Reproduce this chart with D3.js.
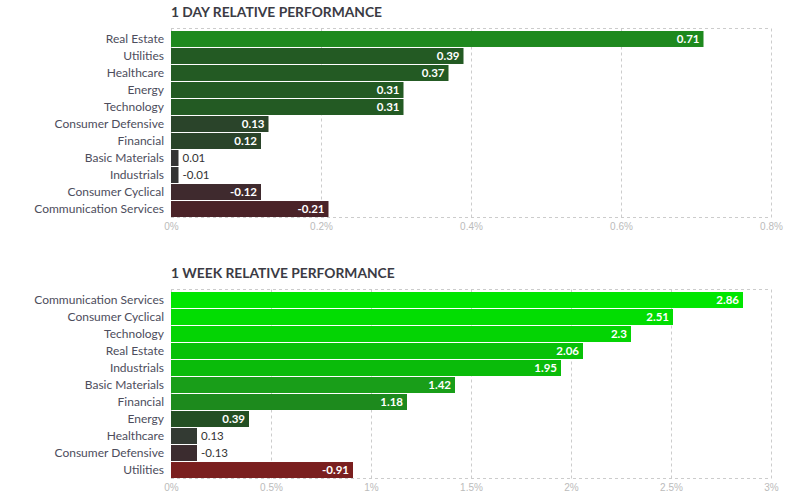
<!DOCTYPE html>
<html>
<head>
<meta charset="utf-8">
<script src="https://cdn.jsdelivr.net/npm/d3@7"></script>
<style>
    body { margin: 0; background: #fff; }
    svg { display: block; font-family: Lato, "Open Sans", sans-serif; }
    .title { font-size: 13.8px; font-weight: bold; fill: #3b3b44; }
    .cat { font-size: 12px; fill: #4d4d5c; }
    .tick text { font-size: 10px; fill: #bbb; }
    .grid line { stroke: #ccc; stroke-dasharray: 3,3; }
    .val { font-size: 11.5px; font-weight: bold; }
</style>
</head>
<body>
<svg width="800" height="502"></svg>
<script>
// 1 day
const dayCategories = ["Real Estate", "Utilities", "Healthcare", "Energy", "Technology",
    "Consumer Defensive", "Financial", "Basic Materials", "Industrials",
    "Consumer Cyclical", "Communication Services"];
const dayValues = [0.71, 0.39, 0.37, 0.31, 0.31, 0.13, 0.12, 0.01, -0.01, -0.12, -0.21];
const dayTicks = [0, 0.2, 0.4, 0.6, 0.8];

// 1 week
const weekCategories = ["Communication Services", "Consumer Cyclical", "Technology", "Real Estate",
    "Industrials", "Basic Materials", "Financial", "Energy", "Healthcare",
    "Consumer Defensive", "Utilities"];
const weekValues = [2.86, 2.51, 2.3, 2.06, 1.95, 1.42, 1.18, 0.39, 0.13, -0.13, -0.91];
const weekTicks = [0, 0.5, 1, 1.5, 2, 2.5, 3];

const LEFT = 171,
    RIGHT = 771,
    LABEL_GAP = 7,
    INSIDE_MIN = 32;

const svg = d3.select("svg");

const dayColor = d3.scaleThreshold()
    .domain([-0.15, -0.05, 0.05, 0.2, 0.5])
    .range(["#4a2328", "#3f2a2e", "#333333", "#2a442a", "#235a23", "#1e891e"]);

const weekColor = d3.scaleThreshold()
    .domain([-0.5, -0.05, 0.25, 1, 1.3, 1.7, 2, 2.2, 2.4, 2.7])
    .range(["#7a1f1f", "#3b2c2f", "#333a33", "#234f23", "#1d8a1d", "#199e19",
        "#0abb0a", "#08c108", "#04d404", "#02dd02", "#00e600"]);

function drawChart(top, title, categories, values, ticks, color) {
    const g = svg.append("g").attr("transform", `translate(0,${top})`);

    const x = d3.scaleLinear()
        .domain([0, ticks[ticks.length - 1]])
        .range([LEFT, RIGHT]);

    const y = d3.scaleBand()
        .domain(categories)
        .range([31, 217])
        .paddingInner(0.06);

    g.append("text")
        .attr("class", "title")
        .attr("x", LEFT)
        .attr("y", 17)
        .text(title);

    // grid + frame
    const grid = g.append("g").attr("class", "grid");
    grid.selectAll(".v")
        .data(ticks)
        .enter()
        .append("line")
        .attr("x1", (d) => x(d) + 0.5)
        .attr("x2", (d) => x(d) + 0.5)
        .attr("y1", 28.5)
        .attr("y2", 217.5);
    grid.selectAll(".h")
        .data([28.5, 217.5])
        .enter()
        .append("line")
        .attr("x1", LEFT)
        .attr("x2", RIGHT)
        .attr("y1", (d) => d)
        .attr("y2", (d) => d);

    const axis = g.append("g")
        .attr("transform", "translate(0,217)")
        .call(d3.axisBottom(x)
            .tickValues(ticks)
            .tickSize(0)
            .tickPadding(6)
            .tickFormat((d) => d + "%"));
    axis.select(".domain").remove();

    g.selectAll(".cat")
        .data(categories)
        .enter()
        .append("text")
        .attr("class", "cat")
        .attr("x", LEFT - LABEL_GAP)
        .attr("y", (d) => y(d) + y.bandwidth() / 2)
        .attr("dy", "0.35em")
        .attr("text-anchor", "end")
        .text((d) => d);

    const rows = categories.map((c, i) => ({ name: c, value: values[i] }));

    g.selectAll(".bar")
        .data(rows)
        .enter()
        .append("rect")
        .attr("class", "bar")
        .attr("x", x(0))
        .attr("y", (d) => y(d.name))
        .attr("width", (d) => x(Math.abs(d.value)) - x(0))
        .attr("height", y.bandwidth())
        .attr("fill", (d) => color(d.value));

    g.selectAll(".val")
        .data(rows)
        .enter()
        .append("text")
        .attr("class", "val")
        .each(function(d) {
            const w = x(Math.abs(d.value)) - x(0),
                inside = w > INSIDE_MIN;
            d3.select(this)
                .attr("x", inside ? x(0) + w - 4 : x(0) + w + 4)
                .attr("text-anchor", inside ? "end" : "start")
                .attr("fill", inside ? "#fff" : "#333")
                .style("font-weight", inside ? "bold" : "normal");
        })
        .attr("y", (d) => y(d.name) + y.bandwidth() / 2)
        .attr("dy", "0.35em")
        .text((d) => d.value);
}

drawChart(0, "1 DAY RELATIVE PERFORMANCE", dayCategories, dayValues, dayTicks, dayColor);
drawChart(261, "1 WEEK RELATIVE PERFORMANCE", weekCategories, weekValues, weekTicks, weekColor);
</script>
</body>
</html>
